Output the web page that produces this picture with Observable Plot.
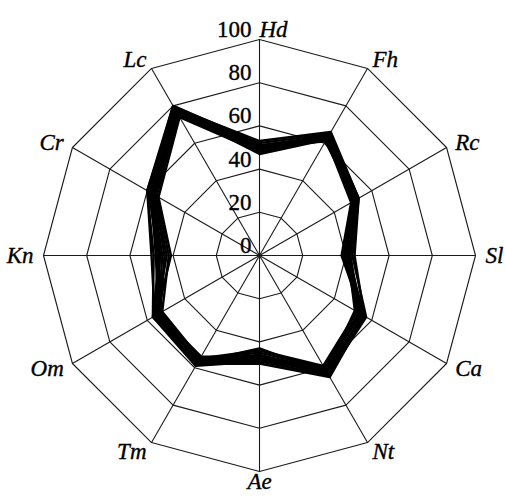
<!DOCTYPE html>
<html>
<head>
<meta charset="utf-8">
<script src="https://cdn.jsdelivr.net/npm/d3@7"></script>
<script src="https://cdn.jsdelivr.net/npm/@observablehq/plot@0.6"></script>
<style>
  html, body { margin: 0; padding: 0; background: #fff; }
</style>
</head>
<body>
<div id="chart"></div>
<script>
// Axis names, clockwise from the top
const axes = ["Hd", "Fh", "Rc", "Sl", "Ca", "Nt", "Ae", "Tm", "Om", "Kn", "Cr", "Lc"];
// Grid rings and radial tick labels
const ringValues = [20, 40, 60, 80, 100];
const tickValues = [0, 20, 40, 60, 80, 100];

// Series values (order follows `axes`)
const s01 = [50, 64, 52, 41, 56, 63, 48, 58, 56, 47, 59, 79];
const s02 = [48, 63, 51, 40, 55, 62, 47, 57, 55, 46, 58, 78];
const s03 = [52, 65, 53, 43, 57, 64, 49, 59, 57, 49, 60, 80];
const s04 = [47, 62, 50, 39, 54, 61, 46, 56, 54, 45, 57, 77];
const s05 = [51, 64, 52, 42, 53, 60, 45, 55, 53, 44, 56, 76];
const s06 = [49, 63, 50, 40, 52, 59, 44, 55, 52, 42, 55, 75];
const s07 = [53, 66, 53, 44, 56, 65, 50, 58, 56, 50, 60, 79];
const s08 = [48, 62, 49, 38, 55, 63, 43, 57, 55, 41, 54, 74];
const s09 = [50, 61, 51, 41, 51, 62, 47, 54, 54, 48, 58, 78];
const s10 = [49, 65, 52, 42, 54, 60, 48, 56, 57, 46, 57, 77];
const s11 = [51, 63, 50, 39, 56, 64, 46, 58, 53, 47, 59, 80];
const s12 = [50, 64, 51, 40, 53, 61, 49, 57, 55, 43, 56, 76];
const seriesList = [s01, s02, s03, s04, s05, s06, s07, s08, s09, s10, s11, s12];

// Layout
const W = 505, H = 498;
const cx = 259, cy = 255, R = 216;      // centre and outer radius in px
const k = R / 100;                       // px per unit
const ang = i => (i * 2 * Math.PI) / axes.length;
const px = (v, i) => v * Math.sin(ang(i));
const py = (v, i) => v * Math.cos(ang(i));

const seriesPts = seriesList.flatMap((s, si) =>
  s.map((v, i) => ({sid: si, x: px(v, i), y: py(v, i)})));
const ringPts = ringValues.flatMap(r =>
  axes.map((a, i) => ({r, x: px(r, i), y: py(r, i)})));
const spokes = axes.map((a, i) => ({x1: 0, y1: 0, x2: px(100, i), y2: py(100, i)}));

const labOff = 100 + 10 / k;
const labels = axes.map((a, i) => {
  const s = Math.sin(ang(i)), c = Math.cos(ang(i));
  const side = s > 0.01 || (Math.abs(s) <= 0.01 && c > 0) ? "start" : s < -0.01 ? "end" : "middle";
  return {name: a, x: px(labOff, i), y: py(labOff, i), side};
});

const tickLab = tickValues.map(v => ({v, x: -8 / k, y: v + 2.5 / k}));

const font = "'Liberation Serif', 'Times New Roman', serif";

const chart = Plot.plot({
  width: W,
  height: H,
  margin: 0,
  x: {domain: [-cx / k, (W - cx) / k], range: [0, W], axis: null},
  y: {domain: [(cy - H) / k, cy / k], range: [H, 0], axis: null},
  style: {fontFamily: font, fontSize: "23px", background: "#fff", overflow: "visible"},
  marks: [
    Plot.line(ringPts, {x: "x", y: "y", z: "r", curve: "linear-closed", stroke: "#1a1a1a", strokeWidth: 1.1}),
    Plot.link(spokes, {x1: "x1", y1: "y1", x2: "x2", y2: "y2", stroke: "#1a1a1a", strokeWidth: 1.1}),
    Plot.line(seriesPts, {x: "x", y: "y", z: "sid", curve: "linear-closed", stroke: "#000",
      strokeWidth: 2.4, strokeLinejoin: "miter", strokeOpacity: 1}),
    Plot.text(tickLab, {x: "x", y: "y", text: d => String(d.v), textAnchor: "end", lineAnchor: "bottom",
      fill: "#000", stroke: "#000", strokeWidth: 0.35, fontSize: 23}),
    ...["start", "middle", "end"].map(side =>
      Plot.text(labels.filter(d => d.side === side), {x: "x", y: "y", text: "name",
        textAnchor: side, lineAnchor: "middle", fontStyle: "italic", fill: "#000",
        stroke: "#000", strokeWidth: 0.35, fontSize: 23}))
  ]
});
document.getElementById("chart").appendChild(chart);
</script>
</body>
</html>
